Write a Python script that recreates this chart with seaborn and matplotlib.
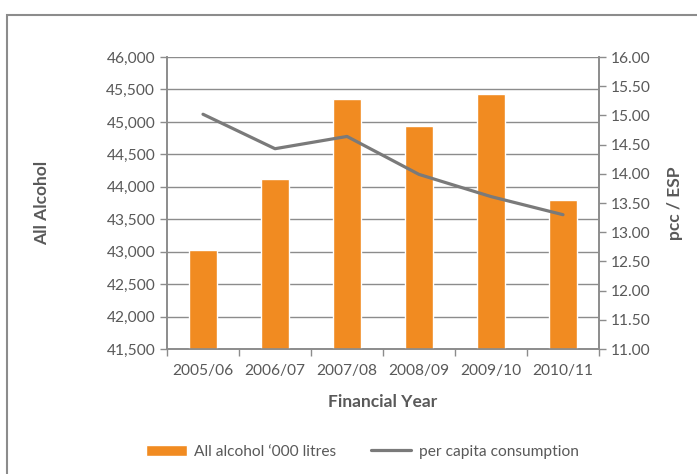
import numpy as np
import pandas as pd
import matplotlib
matplotlib.use('Agg')
import matplotlib.pyplot as plt
import seaborn as sns
from matplotlib.patches import Rectangle
from matplotlib.ticker import FuncFormatter, MultipleLocator

years = ['2005/06', '2006/07', '2007/08', '2008/09', '2009/10', '2010/11']
alcohol_litres = [43030, 44115, 45360, 44940, 45430, 43800]
per_capita = [15.02, 14.43, 14.64, 13.99, 13.61, 13.30]

sns.set_style('white')
plt.rcParams['font.family'] = ['Lato', 'DejaVu Sans']

text_col = '#595959'
grid_col = '#8c8c8c'
bar_col = '#f18b21'
line_col = '#7a7a7a'

df = pd.DataFrame({'year': years, 'litres': alcohol_litres, 'pcc': per_capita})

fig = plt.figure(figsize=(6.97, 4.74), dpi=100)
ax = fig.add_axes([0.2396, 0.2637, 0.6198, 0.616])

sns.barplot(data=df, x='year', y='litres', color=bar_col, width=0.4,
            saturation=1, ax=ax, zorder=3, label='All alcohol \u2018000 litres')
if ax.get_legend() is not None:
    ax.get_legend().remove()
ax.set_ylim(41500, 46000)
ax.yaxis.set_major_locator(MultipleLocator(500))
ax.yaxis.set_major_formatter(FuncFormatter(lambda v, p: f'{v:,.0f}'))
ax.grid(axis='y', color=grid_col, lw=1, zorder=0)
ax.set_axisbelow(True)

ax2 = ax.twinx()
sns.lineplot(data=df, x='year', y='pcc', color=line_col, lw=2.3, ax=ax2,
             label='per capita consumption', legend=False)
ax2.set_ylim(11, 16)
ax2.yaxis.set_major_locator(MultipleLocator(0.5))
ax2.yaxis.set_major_formatter(FuncFormatter(lambda v, p: f'{v:.2f}'))
ax.set_xlim(-0.5, len(years) - 0.5)

for a in (ax, ax2):
    for s in a.spines.values():
        s.set_color(grid_col)
        s.set_linewidth(1.2)
    a.spines['top'].set_visible(False)
ax.tick_params(axis='y', left=True, colors=grid_col, labelcolor=text_col,
               labelsize=11.2, length=5, width=1, direction='out')
ax2.tick_params(axis='y', right=True, colors=grid_col, labelcolor=text_col,
                labelsize=11.2, length=5, width=1, direction='out')

ax.set_xticks(np.arange(len(years)))
ax.set_xticks(np.arange(len(years) + 1) - 0.5, minor=True)
ax.tick_params(axis='x', which='major', bottom=True, length=0,
               labelcolor=text_col, labelsize=11.2, pad=11)
ax.tick_params(axis='x', which='minor', bottom=True, length=5,
               color=grid_col, width=1, direction='out')

ax.set_xlabel('Financial Year', fontsize=12.5, fontweight='bold', color=text_col, labelpad=11)
ax.set_ylabel('All Alcohol', fontsize=12.5, fontweight='bold', color=text_col)
ax2.set_ylabel('pcc / ESP', fontsize=12.5, fontweight='bold', color=text_col, labelpad=12)
ax.yaxis.set_label_coords(-0.27, 0.5)

h1, l1 = ax.get_legend_handles_labels()
h2, l2 = ax2.get_legend_handles_labels()
leg = fig.legend(h1 + h2, l1 + l2, loc='center', bbox_to_anchor=(0.52, 0.047),
                 ncol=2, frameon=False, fontsize=11.2, handlelength=2.6,
                 columnspacing=2.2, handletextpad=0.5)
for t in leg.get_texts():
    t.set_color(text_col)

fig.patches.append(Rectangle((7 / 697, -0.05), 1.1, 1 - 15 / 474 + 0.05,
                             transform=fig.transFigure, fill=False,
                             edgecolor='#8c8c8c', lw=1.5))

fig.savefig('out.png', dpi=100)
